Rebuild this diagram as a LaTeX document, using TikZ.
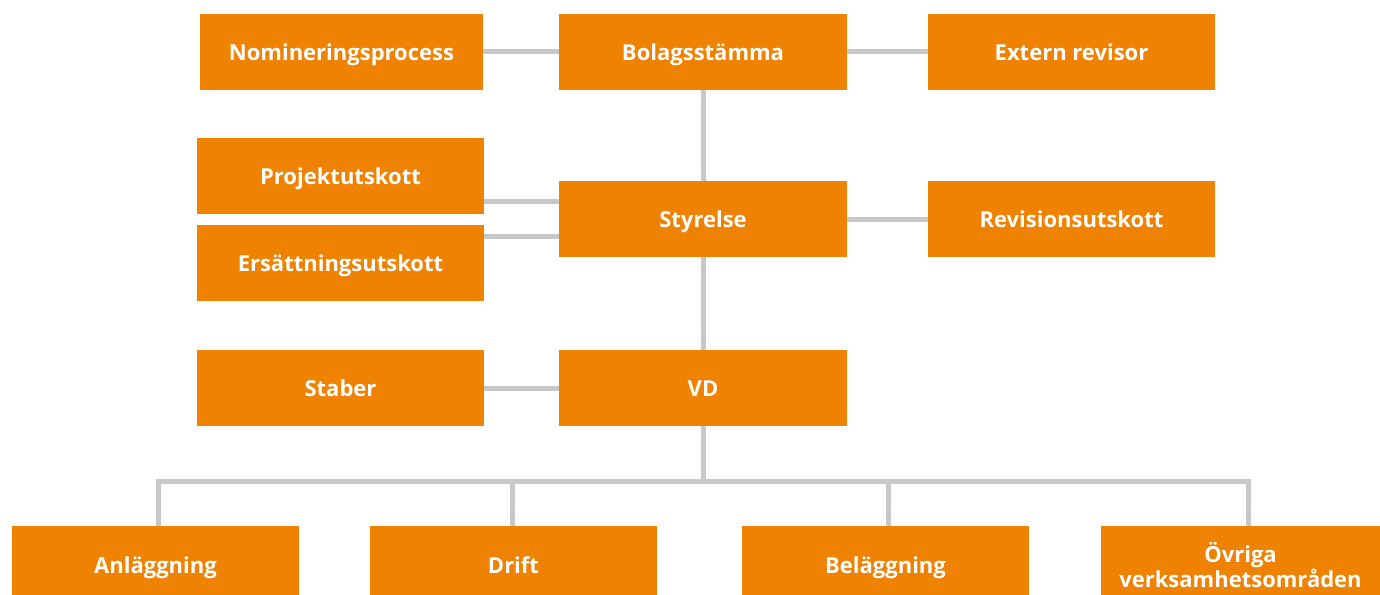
\documentclass[tikz,border=0pt]{standalone}
\usepackage{fontspec}
\setmainfont{Open Sans}
\usetikzlibrary{backgrounds}
\definecolor{boxorange}{HTML}{EF8200}
\definecolor{linegray}{HTML}{C8C8C8}
\tikzset{
  orgbox/.style={fill=boxorange, draw=none, text=white, minimum width=287pt, minimum height=76pt,
    inner sep=0pt, align=center, font=\fontsize{22}{23}\selectfont\bfseries,
    text height=16pt, text depth=0pt},
  twoline/.style={text height=, text depth=},
  link/.style={draw=linegray, line width=5pt}
}
\begin{document}
\begin{tikzpicture}[x=1pt,y=-1pt]
\useasboundingbox (0,0) rectangle (1380,594);
\clip (0,0) rectangle (1380,594);
\node[orgbox, minimum width=283pt] (nom) at (341.5,52) {Nomineringsprocess};
\node[orgbox, minimum width=288pt] (bol) at (703,52) {Bolagsstämma};
\node[orgbox] (ext) at (1071.5,52) {Extern revisor};
\node[orgbox] (proj) at (340.5,176) {Projektutskott};
\node[orgbox] (ers) at (340.5,263) {Ersättningsutskott};
\node[orgbox, minimum width=288pt] (sty) at (703,219) {Styrelse};
\node[orgbox] (rev) at (1071.5,219) {Revisionsutskott};
\node[orgbox] (stab) at (340.5,388) {Staber};
\node[orgbox, minimum width=288pt] (vd) at (703,388) {VD};
\node[orgbox, minimum height=78pt] (anl) at (155.5,565) {Anläggning};
\node[orgbox, minimum height=78pt] (drift) at (513.5,565) {Drift};
\node[orgbox, minimum height=78pt] (bel) at (885.5,565) {Beläggning};
\node[orgbox, twoline, minimum width=279pt, minimum height=78pt] (ovr) at (1240.5,565) {Övriga\\verksamhetsområden};
\coordinate (y1) at (0,201.5);
\coordinate (y2) at (0,236.5);
\coordinate (b1) at (158,481.5);
\coordinate (b2) at (512,481.5);
\coordinate (b3) at (888,481.5);
\coordinate (b4) at (1248,481.5);
\begin{scope}[on background layer]
\draw[link] (nom) -- (bol);
\draw[link] (bol) -- (ext);
\draw[link] (bol) -- (sty);
\draw[link] (sty) -- (rev);
\draw[link] (proj.east |- y1) -- (sty.west |- y1);
\draw[link] (ers.east |- y2) -- (sty.west |- y2);
\draw[link] (sty) -- (vd);
\draw[link] (stab) -- (vd);
\draw[link] (vd.south) -- (vd.south |- b1);
\draw[link, line cap=rect] (b1) -- (b4);
\draw[link] (b1) -- (b1 |- anl.north);
\draw[link] (b2) -- (b2 |- drift.north);
\draw[link] (b3) -- (b3 |- bel.north);
\draw[link] (b4) -- (b4 |- ovr.north);
\end{scope}
\end{tikzpicture}
\end{document}
